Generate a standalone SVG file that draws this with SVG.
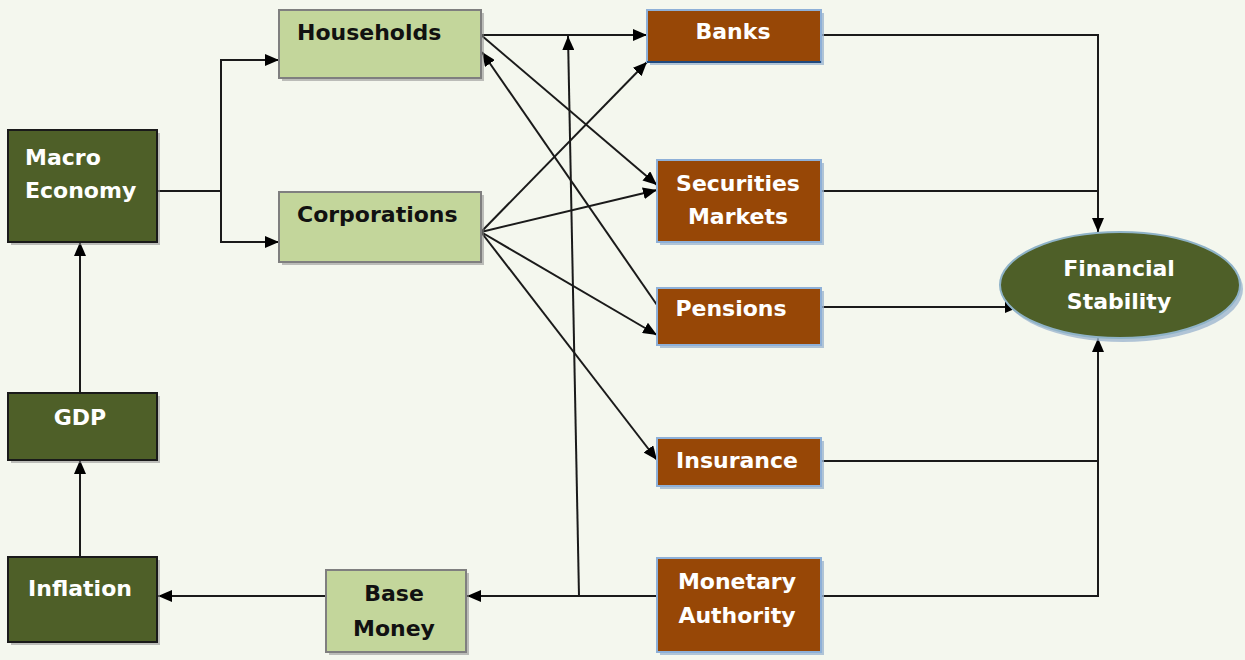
<svg xmlns="http://www.w3.org/2000/svg" width="1245" height="660" viewBox="0 0 1245 660">
  <style>
    .bg { fill: #f4f7ee; }
    .light { fill: #c3d69b; stroke: #7f7f7f; stroke-width: 2; }
    .dark { fill: #4e5f28; stroke: #1a1a1a; stroke-width: 2; }
    .brown { fill: #974706; stroke: #8eb0d8; stroke-width: 2; }
    .shadow { fill: #8c8c8c; opacity: 0.55; }
    .bshadow { fill: #9fb6cf; opacity: 0.8; }
    .lbl { font-family: "DejaVu Sans", "Liberation Sans", sans-serif; font-weight: bold; font-size: 22px; }
    .lt { fill: #111; }
    .wt { fill: #ffffff; }
    .mid { text-anchor: middle; }
    .edge { fill: none; stroke: #1a1a1a; stroke-width: 2; }
  </style>
  <defs>
    <marker id="arr" viewBox="0 0 14 12" refX="14" refY="6" markerWidth="14" markerHeight="12" markerUnits="userSpaceOnUse" orient="auto">
      <path d="M0,0 L14,6 L0,12 z" fill="#000"/>
    </marker>
  </defs>

  <rect class="bg" x="0" y="0" width="1245" height="660"/>

  <!-- connectors -->
  <g id="connectors">
    <!-- macro economy to sectors -->
    <path class="edge" d="M157,191 H221 V60 H279" marker-end="url(#arr)"/>
    <path class="edge" d="M221,191 V242 H279" marker-end="url(#arr)"/>
    <!-- GDP and inflation chain -->
    <path class="edge" d="M80,393 V242" marker-end="url(#arr)"/>
    <path class="edge" d="M80,557 V460" marker-end="url(#arr)"/>
    <path class="edge" d="M326,596 H158" marker-end="url(#arr)"/>
    <path class="edge" d="M657,596 H467" marker-end="url(#arr)"/>
    <path class="edge" d="M579,596 L568,36" marker-end="url(#arr)"/>
    <!-- households -->
    <path class="edge" d="M481,35 H647" marker-end="url(#arr)"/>
    <path class="edge" d="M481,35 L657,185" marker-end="url(#arr)"/>
    <path class="edge" d="M657,305 L482,52" marker-end="url(#arr)"/>
    <!-- corporations -->
    <path class="edge" d="M481,232 L647,62" marker-end="url(#arr)"/>
    <path class="edge" d="M481,232 L657,190" marker-end="url(#arr)"/>
    <path class="edge" d="M481,232 L657,335" marker-end="url(#arr)"/>
    <path class="edge" d="M481,232 L657,460" marker-end="url(#arr)"/>
    <!-- institutions to financial stability -->
    <path class="edge" d="M821,35 H1098 V232" marker-end="url(#arr)"/>
    <path class="edge" d="M821,191 H1098"/>
    <path class="edge" d="M821,307 H1019" marker-end="url(#arr)"/>
    <path class="edge" d="M821,461 H1098 V338" marker-end="url(#arr)"/>
    <path class="edge" d="M821,596 H1098 V461"/>
  </g>

  <g id="macro-economy">
    <rect class="shadow" x="11" y="133" width="149" height="112"/>
    <rect class="dark" x="8" y="130" width="149" height="112"/>
    <text class="lbl wt" x="25" y="165">Macro</text>
    <text class="lbl wt" x="25" y="198">Economy</text>
  </g>

  <g id="gdp">
    <rect class="shadow" x="11" y="396" width="149" height="67"/>
    <rect class="dark" x="8" y="393" width="149" height="67"/>
    <text class="lbl wt mid" x="80" y="425">GDP</text>
  </g>

  <g id="inflation">
    <rect class="shadow" x="11" y="560" width="149" height="85"/>
    <rect class="dark" x="8" y="557" width="149" height="85"/>
    <text class="lbl wt mid" x="80" y="596">Inflation</text>
  </g>

  <g id="households">
    <rect class="shadow" x="282" y="13" width="202" height="68"/>
    <rect class="light" x="279" y="10" width="202" height="68"/>
    <text class="lbl lt" x="297" y="40">Households</text>
  </g>

  <g id="corporations">
    <rect class="shadow" x="282" y="195" width="202" height="70"/>
    <rect class="light" x="279" y="192" width="202" height="70"/>
    <text class="lbl lt" x="297" y="222">Corporations</text>
  </g>

  <g id="base-money">
    <rect class="shadow" x="329" y="573" width="140" height="82"/>
    <rect class="light" x="326" y="570" width="140" height="82"/>
    <text class="lbl lt mid" x="394" y="601">Base</text>
    <text class="lbl lt mid" x="394" y="636">Money</text>
  </g>

  <g id="banks">
    <rect class="bshadow" x="650" y="13" width="174" height="52"/>
    <rect class="brown" x="647" y="10" width="174" height="52"/>
    <line x1="647" y1="62" x2="821" y2="62" stroke="#1f497d" stroke-width="2"/>
    <text class="lbl wt mid" x="733" y="39">Banks</text>
  </g>

  <g id="securities-markets">
    <rect class="bshadow" x="660" y="163" width="164" height="82"/>
    <rect class="brown" x="657" y="160" width="164" height="82"/>
    <text class="lbl wt mid" x="738" y="191">Securities</text>
    <text class="lbl wt mid" x="738" y="224">Markets</text>
  </g>

  <g id="pensions">
    <rect class="bshadow" x="660" y="291" width="164" height="57"/>
    <rect class="brown" x="657" y="288" width="164" height="57"/>
    <text class="lbl wt mid" x="731" y="316">Pensions</text>
  </g>

  <g id="insurance">
    <rect class="bshadow" x="660" y="441" width="164" height="48"/>
    <rect class="brown" x="657" y="438" width="164" height="48"/>
    <text class="lbl wt mid" x="737" y="468">Insurance</text>
  </g>

  <g id="monetary-authority">
    <rect class="bshadow" x="660" y="561" width="164" height="94"/>
    <rect class="brown" x="657" y="558" width="164" height="94"/>
    <text class="lbl wt mid" x="737" y="589">Monetary</text>
    <text class="lbl wt mid" x="737" y="623">Authority</text>
  </g>

  <g id="financial-stability">
    <ellipse cx="1123" cy="289" rx="120" ry="53" fill="#9fb6cf" opacity="0.8"/>
    <ellipse cx="1120" cy="285" rx="120" ry="53" fill="#4e5f28" stroke="#8fb3c8" stroke-width="2"/>
    <text class="lbl wt mid" x="1119" y="276">Financial</text>
    <text class="lbl wt mid" x="1119" y="309">Stability</text>
  </g>
</svg>
